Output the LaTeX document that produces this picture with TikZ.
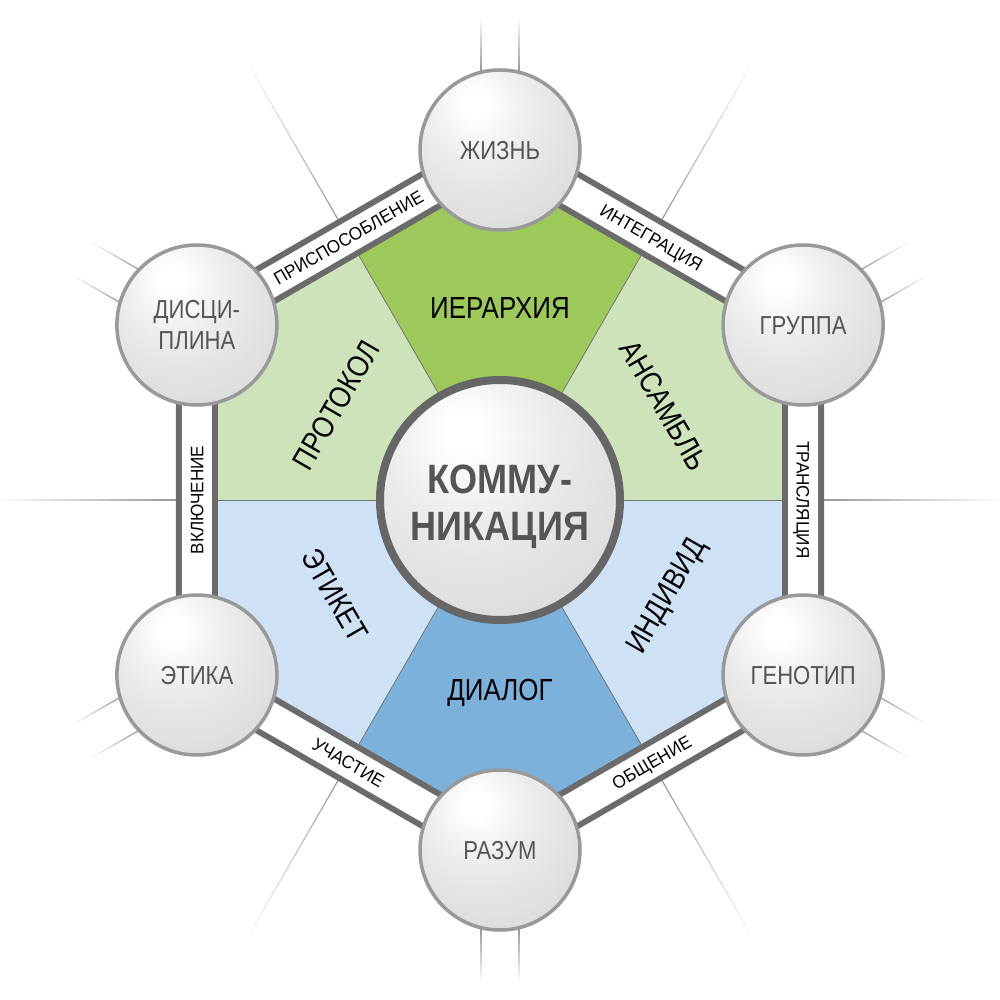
\documentclass[tikz,border=0pt]{standalone}
\usepackage{fontspec}
\newfontfamily\condf{Liberation Sans}[FakeStretch=0.85]
\newfontfamily\hubf{Liberation Sans}[FakeStretch=0.88]
\newfontfamily\bandf{Liberation Sans}[FakeStretch=0.95]
\definecolor{gDark}{HTML}{9DC85A}
\definecolor{gLight}{HTML}{CDE3BA}
\definecolor{bLight}{HTML}{CFE2F5}
\definecolor{bDark}{HTML}{7BB1DA}
\definecolor{bandgray}{HTML}{6B6B6B}
\definecolor{lblgray}{HTML}{555555}
\pgfdeclareradialshading{orbshade}{\pgfpoint{-8bp}{15bp}}{color(0bp)=(white); color(4bp)=(white); color(18bp)=(black!8); color(40bp)=(black!15); color(60bp)=(black!27); color(100bp)=(black!27)}
\tikzset{
  orbbase/.style={circle, minimum size=160pt, inner sep=0pt, line width=3.5pt, draw=black!40, shade, shading=orbshade, font=\condf\fontsize{26}{31}\selectfont, text=lblgray},
  orb/.style={orbbase, text height=19pt, text depth=0pt},
  hubstyle/.style={circle, minimum size=240pt, inner sep=0pt, line width=8pt, draw=black!60, shade, shading=orbshade},
  hubtext/.style={inner sep=0pt, align=center, font=\hubf\bfseries\fontsize{41}{47}\selectfont, text=lblgray, text depth=0pt},
  bandlbl/.style={inner sep=0pt, font=\bandf\fontsize{18}{20}\selectfont, text height=13pt, text depth=0pt, text=black},
  seclbl/.style={inner sep=0pt, font=\condf\fontsize{30.5}{36}\selectfont, text height=22pt, text depth=0pt, text=black},
  divline/.style={line width=0.8pt, black!55},
  bandouter/.style={line width=42pt, bandgray, line join=miter},
  bandinner/.style={line width=30pt, white, line join=miter}
}
\begin{document}
\begin{tikzpicture}[x=1pt,y=1pt]
\useasboundingbox (-500,-500) rectangle (500,500);
\fill[white] (-500,-500) rectangle (500,500);
% fading radial lines at edge midpoints
\foreach \a in {0,60,...,300}{
  \begin{scope}[rotate=\a]
  \foreach \i in {0,...,19}{
    \pgfmathsetmacro\ra{320+\i*9}
    \pgfmathsetmacro\rb{320+\i*9+9.3}
    \pgfmathsetmacro\cc{40*(1-\i/20)}
    \draw[line width=1.2pt, black!\cc] (\ra,0) -- (\rb,0);
  }
  \end{scope}
}
% fading paired lines at vertices
\foreach \a in {90,30,-30,-90,-150,150}{
  \begin{scope}[rotate=\a]
  \foreach \s in {-19,19}{
    \foreach \i in {0,...,11}{
      \pgfmathsetmacro\ra{426+\i*4.5}
      \pgfmathsetmacro\rb{426+\i*4.5+4.8}
      \pgfmathsetmacro\cc{40*(1-\i/12)}
      \draw[line width=1.2pt, black!\cc] (\ra,\s) -- (\rb,\s);
    }
  }
  \end{scope}
}
\coordinate (p1) at (90:350);
\coordinate (p2) at (30:350);
\coordinate (p3) at (-30:350);
\coordinate (p4) at (-90:350);
\coordinate (p5) at (-150:350);
\coordinate (p6) at (150:350);
% sectors
\fill[gDark]  (0,0) -- (60:303.11)  -- (p1) -- (120:303.11) -- cycle;
\fill[gLight] (0,0) -- (0:303.11)   -- (p2) -- (60:303.11) -- cycle;
\fill[bLight] (0,0) -- (-60:303.11) -- (p3) -- (0:303.11) -- cycle;
\fill[bDark]  (0,0) -- (-120:303.11) -- (p4) -- (-60:303.11) -- cycle;
\fill[bLight] (0,0) -- (180:303.11) -- (p5) -- (-120:303.11) -- cycle;
\fill[gLight] (0,0) -- (120:303.11) -- (p6) -- (180:303.11) -- cycle;
\foreach \a in {0,60,...,300}{\draw[divline] (0,0) -- (\a:303);}
% band
\draw[bandouter] (p1) -- (p2) -- (p3) -- (p4) -- (p5) -- (p6) -- cycle;
\draw[bandinner] (p1) -- (p2) -- (p3) -- (p4) -- (p5) -- (p6) -- cycle;
\path (p6) -- (p1) node[midway, bandlbl, rotate=30] (l1) {ПРИСПОСОБЛЕНИЕ};
\path (p1) -- (p2) node[midway, bandlbl, rotate=-30] (l2) {ИНТЕГРАЦИЯ};
\path (p2) -- (p3) node[midway, bandlbl, rotate=-90] (l3) {ТРАНСЛЯЦИЯ};
\path (p3) -- (p4) node[midway, bandlbl, rotate=30] (l4) {ОБЩЕНИЕ};
\path (p4) -- (p5) node[midway, bandlbl, rotate=-30] (l5) {УЧАСТИЕ};
\path (p5) -- (p6) node[midway, bandlbl, rotate=90] (l6) {ВКЛЮЧЕНИЕ};
% sector labels
\node[seclbl] (s1) at (90:192) {ИЕРАРХИЯ};
\node[seclbl, rotate=-60] (s2) at (30:190) {АНСАМБЛЬ};
\node[seclbl, rotate=60] (s3) at (-30:190) {ИНДИВИД};
\node[seclbl] (s4) at (-90:189) {ДИАЛОГ};
\node[seclbl, rotate=-60] (s5) at (-150:190) {ЭТИКЕТ};
\node[seclbl, rotate=60] (s6) at (150:190) {ПРОТОКОЛ};
% circles
\node[orb] (c1) at (p1) {ЖИЗНЬ};
\node[orb] (c2) at (p2) {ГРУППА};
\node[orb] (c3) at (p3) {ГЕНОТИП};
\node[orb] (c4) at (p4) {РАЗУМ};
\node[orb] (c5) at (p5) {ЭТИКА};
\node[orbbase, align=center] (c6) at (p6) {ДИСЦИ-\\ПЛИНА};
\node[hubstyle] (hub) at (0,0) {};
\node[hubtext] (hubt) at (0,-2.5) {КОММУ-\\НИКАЦИЯ};
\end{tikzpicture}
\end{document}
